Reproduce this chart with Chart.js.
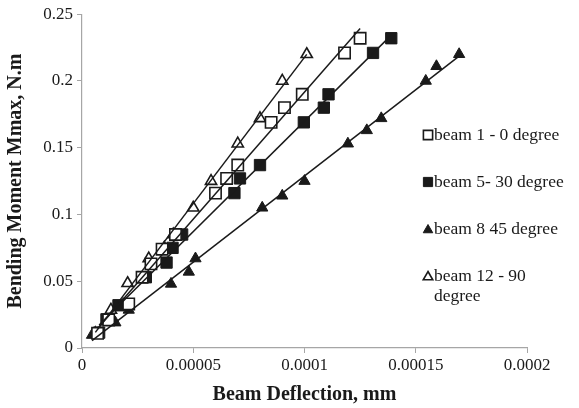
<!DOCTYPE html>
<html>
<head>
<meta charset="utf-8">
<title>Bending moment vs beam deflection</title>
<script src="https://cdn.jsdelivr.net/npm/chart.js@4"></script>
<style>
  html, body { margin: 0; padding: 0; background: #fff; }
  #wrap { position: relative; width: 579px; height: 408px; }
</style>
</head>
<body>
<div id="wrap"><canvas id="chart"></canvas></div>
<script>
"use strict";

// Deflection (mm) against max bending moment (N.m), one pair of arrays per beam
const beam1Defl = [7e-6, 12e-6, 21e-6, 27e-6, 31e-6, 36e-6, 42e-6, 60e-6, 65e-6, 70e-6, 85e-6, 91e-6, 99e-6, 118e-6, 125e-6];
const beam1Moment = [0.011, 0.021, 0.033, 0.053, 0.063, 0.074, 0.085, 0.116, 0.127, 0.137, 0.169, 0.18, 0.19, 0.221, 0.232];

const beam5Defl = [7.7e-6, 11e-6, 16.4e-6, 28.7e-6, 38e-6, 40.7e-6, 45e-6, 68.5e-6, 71e-6, 80e-6, 99.7e-6, 108.7e-6, 110.8e-6, 130.8e-6, 139e-6];
const beam5Moment = [0.0115, 0.0215, 0.032, 0.053, 0.064, 0.075, 0.085, 0.116, 0.127, 0.137, 0.169, 0.18, 0.19, 0.221, 0.232];

const beam8Defl = [4.5e-6, 7e-6, 15e-6, 21e-6, 40e-6, 48e-6, 51e-6, 81e-6, 90e-6, 100e-6, 119.5e-6, 128e-6, 134.5e-6, 154.5e-6, 159.3e-6, 169.5e-6];
const beam8Moment = [0.0097, 0.011, 0.019, 0.0285, 0.048, 0.057, 0.067, 0.105, 0.114, 0.125, 0.153, 0.163, 0.172, 0.2, 0.211, 0.22];

const beam12Defl = [6e-6, 13e-6, 20.5e-6, 30e-6, 37e-6, 41e-6, 50e-6, 58e-6, 70e-6, 80e-6, 90e-6, 101e-6];
const beam12Moment = [0.011, 0.0285, 0.0485, 0.067, 0.075, 0.085, 0.105, 0.125, 0.153, 0.172, 0.2, 0.22];

const seriesNames = ["beam 1 - 0 degree", "beam 5- 30 degree", "beam 8 45 degree", "beam 12 - 90 degree"];

const xTickValues = [0, 0.00005, 0.0001, 0.00015, 0.0002];
const xTickLabels = ["0", "0.00005", "0.0001", "0.00015", "0.0002"];
const yTickValues = [0, 0.05, 0.1, 0.15, 0.2, 0.25];
const yTickLabels = ["0", "0.05", "0.1", "0.15", "0.2", "0.25"];

const SERIF = '"Liberation Serif", "Times New Roman", serif';
const INK = "#1a1a1a";
const AXIS = "#a6a6a6";

const toPoints = (xs, ys) => xs.map((x, i) => ({ x: x, y: ys[i] }));

// least squares line, drawn between the smallest and largest deflection
function trend(xs, ys) {
  const n = xs.length;
  let sx = 0, sy = 0, sxx = 0, sxy = 0;
  for (let i = 0; i < n; i++) {
    sx += xs[i]; sy += ys[i];
    sxx += xs[i] * xs[i]; sxy += xs[i] * ys[i];
  }
  const slope = (n * sxy - sx * sy) / (n * sxx - sx * sx);
  const icpt = (sy - slope * sx) / n;
  const x0 = Math.min(...xs), x1 = Math.max(...xs);
  return [{ x: x0, y: icpt + slope * x0 }, { x: x1, y: icpt + slope * x1 }];
}

const styles = [
  { pointStyle: "rect", radius: 8, fill: "#fff", border: INK, bw: 1.6 },
  { pointStyle: "rect", radius: 8, fill: INK, border: INK, bw: 1 },
  { pointStyle: "triangle", radius: 6.5, fill: INK, border: INK, bw: 1 },
  { pointStyle: "triangle", radius: 6.5, fill: "#fff", border: INK, bw: 1.6 }
];

const series = [
  [beam1Defl, beam1Moment],
  [beam5Defl, beam5Moment],
  [beam8Defl, beam8Moment],
  [beam12Defl, beam12Moment]
];

const datasets = [];
series.forEach((s, i) => {
  const st = styles[i];
  datasets.push({
    label: seriesNames[i],
    data: toPoints(s[0], s[1]),
    showLine: false,
    pointStyle: st.pointStyle,
    pointRadius: st.radius,
    pointBackgroundColor: st.fill,
    pointBorderColor: st.border,
    pointBorderWidth: st.bw,
    order: 2
  });
});
series.forEach((s, i) => {
  datasets.push({
    label: seriesNames[i] + " trend",
    data: trend(s[0], s[1]),
    showLine: true,
    borderColor: INK,
    borderWidth: 1.5,
    pointRadius: 0,
    fill: false,
    order: 1
  });
});

// legend sits inside the plot on the right, drawn by hand so it can wrap
const sideLegend = {
  id: "sideLegend",
  afterDraw(chart) {
    const ctx = chart.ctx;
    const x = 428, textX = 434, maxW = 142;
    const rows = [135, 182, 229, 276];
    ctx.save();
    ctx.font = "17.5px " + SERIF;
    ctx.textBaseline = "middle";
    seriesNames.forEach((name, i) => {
      const st = styles[i];
      ctx.fillStyle = st.fill;
      ctx.strokeStyle = st.border;
      ctx.lineWidth = st.bw;
      Chart.helpers.drawPoint(ctx, {
        pointStyle: st.pointStyle,
        radius: st.pointStyle === "rect" ? 6.5 : 5.5,
        borderWidth: st.bw
      }, x, rows[i] + (st.pointStyle === "triangle" ? 1 : 0));
      // word wrap
      const words = name.split(" ");
      const lines = [];
      let cur = "";
      words.forEach(w => {
        const t = cur ? cur + " " + w : w;
        if (ctx.measureText(t).width > maxW && cur) { lines.push(cur); cur = w; }
        else cur = t;
      });
      lines.push(cur);
      ctx.fillStyle = INK;
      lines.forEach((ln, k) => ctx.fillText(ln, textX, rows[i] + k * 20));
    });
    ctx.restore();
  }
};

new Chart(document.getElementById("chart"), {
  type: "scatter",
  data: { datasets: datasets },
  plugins: [sideLegend],
  options: {
    responsive: true,
    maintainAspectRatio: false,
    animation: false,
    layout: { padding: { left: 0, right: 52, top: 14, bottom: 0 } },
    plugins: {
      legend: { display: false },
      tooltip: { enabled: false }
    },
    scales: {
      x: {
        type: "linear",
        min: 0,
        max: 0.0002,
        afterBuildTicks: s => { s.ticks = xTickValues.map(v => ({ value: v })); },
        afterFit: s => { s.height = 60; },
        ticks: {
          color: INK,
          font: { family: SERIF, size: 17 },
          padding: 2,
          maxRotation: 0,
          callback: (v, i) => xTickLabels[i]
        },
        grid: { drawOnChartArea: false, drawTicks: true, tickLength: 5, color: AXIS },
        border: { color: AXIS, width: 1.2 },
        title: {
          display: true,
          text: "Beam Deflection, mm",
          color: INK,
          font: { family: SERIF, size: 20, weight: "bold" },
          padding: { top: 0, bottom: 1 }
        }
      },
      y: {
        type: "linear",
        min: 0,
        max: 0.25,
        afterBuildTicks: s => { s.ticks = yTickValues.map(v => ({ value: v })); },
        afterFit: s => { s.width = 82; },
        ticks: {
          color: INK,
          font: { family: SERIF, size: 17 },
          padding: 4,
          callback: (v, i) => yTickLabels[i]
        },
        grid: { drawOnChartArea: false, drawTicks: true, tickLength: 5, color: AXIS },
        border: { color: AXIS, width: 1.2 },
        title: {
          display: true,
          text: "Bending Moment Mmax, N.m",
          color: INK,
          font: { family: SERIF, size: 20, weight: "bold" },
          padding: { top: 4, bottom: 0 }
        }
      }
    }
  }
});
</script>
</body>
</html>
